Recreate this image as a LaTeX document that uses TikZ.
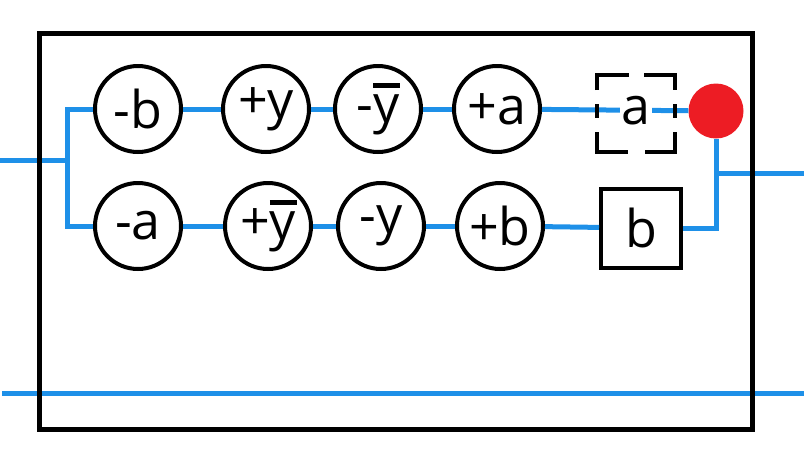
\documentclass[tikz,border=0pt]{standalone}
\usepackage{fontspec}
\setmainfont{Open Sans}
\definecolor{wire}{RGB}{30,144,232}
\definecolor{dotred}{RGB}{237,28,36}
\newcommand\ybar{\leavevmode\rlap{\rule[0.66em]{0.52em}{0.09em}}y}
\newcommand\bigtext{\fontsize{52pt}{60pt}\selectfont}
\tikzset{
  gate/.style={circle,draw=black,line width=4pt,minimum size=86pt,inner sep=0pt,font=\bigtext},
  sqbox/.style={rectangle,draw=black,line width=4pt,minimum width=80pt,minimum height=79pt,inner sep=0pt,font=\bigtext},
  lbl/.style={fill=white,inner sep=2pt,font=\bigtext},
  wireline/.style={draw=wire,line width=5pt},
  dashpart/.style={draw=black,line width=4pt},
  frame/.style={draw=black,line width=5pt}
}
\begin{document}
\begin{tikzpicture}[x=1pt,y=-1pt]
\useasboundingbox (0,0) rectangle (804,472);
% top row
\node[gate] (mb)  at (138,109) {-b};
\node[gate] (py)  at (266,109) {+y};
\node[gate] (myb) at (378,109) {-\ybar};
\node[gate] (pa)  at (497,109) {+a};
% bottom row
\node[gate] (ma)  at (138,226) {-a};
\node[gate] (pyb) at (268,226) {+\ybar};
\node[gate] (my)  at (381,226) {-y};
\node[gate] (pb)  at (500,226) {+b};
\node[sqbox] (bb) at (641,228) {b};
\node[circle,fill=dotred,minimum size=55pt,inner sep=0pt] (red) at (716,111) {};
% coordinates
\coordinate (in) at (0,160);
\coordinate (split) at (67,160);
\coordinate (join) at (716,173);
\coordinate (out) at (804,173);
\coordinate (bl) at (2,393);
\coordinate (br) at (804,393);
% wires
\draw[wireline] (in) -- (split);
\draw[wireline] (mb.west) -| (split) |- (ma.west);
\draw[wireline] (mb) -- (py);
\draw[wireline] (py) -- (myb);
\draw[wireline] (myb) -- (pa);
\draw[wireline] (pa) -- (red);
\draw[wireline] (ma) -- (pyb);
\draw[wireline] (pyb) -- (my);
\draw[wireline] (my) -- (pb);
\draw[wireline] (pb) -- (bb);
\draw[wireline] (bb.east) -| (red.south);
\draw[wireline] (join) -- (out);
\draw[wireline] (bl) -- (br);
% dashed box a
\node[lbl] (al) at (636,111) {a};
\draw[dashpart] (597,90) -- (597,75) -- (629,75);
\draw[dashpart] (644,75) -- (675,75) -- (675,90);
\draw[dashpart] (597,132) -- (597,152) -- (628,152);
\draw[dashpart] (645,152) -- (675,152) -- (675,132);
\draw[dashpart] (597,104) -- (597,118);
\draw[dashpart] (675,104) -- (675,118);
% frame
\draw[frame] (39,33) rectangle (752,429);
\end{tikzpicture}
\end{document}
